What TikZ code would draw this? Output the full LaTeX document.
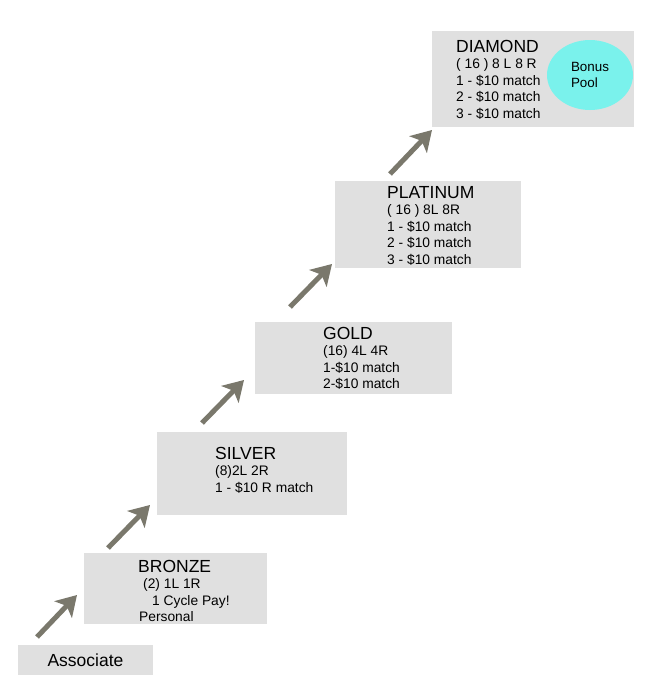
\documentclass[tikz,border=0pt]{standalone}
\usepackage{fontspec}
\setmainfont{Liberation Sans}
\usetikzlibrary{arrows.meta,shapes.geometric}
\definecolor{boxgray}{RGB}{224,224,224}
\definecolor{arrowgray}{RGB}{122,120,108}
\definecolor{poolcyan}{RGB}{122,242,236}
\newcommand\titlef{\fontsize{17.5}{17}\selectfont}
\newcommand\bodyf{\fontsize{13.8}{16.5}\selectfont}
\tikzset{
  box/.style={rectangle, fill=boxgray, draw=none, inner sep=0pt},
  txt/.style={anchor=base west, inner sep=0pt, text=black},
  uparrow/.style={draw=arrowgray, line width=5pt,
    -{Stealth[length=20pt,width=24pt,inset=5pt,fill=arrowgray]}}
}
\begin{document}
\begin{tikzpicture}[x=1pt,y=-1pt]
\useasboundingbox (0,0) rectangle (649,697);
% boxes
\node[box, minimum width=135pt, minimum height=30pt, font=\titlef] (assoc) at (85.5,660) {Associate};
\node[box, minimum width=183pt, minimum height=71pt] (bronze) at (175.5,588.5) {};
\node[box, minimum width=190pt, minimum height=83pt] (silver) at (252,473.5) {};
\node[box, minimum width=197pt, minimum height=72pt] (gold) at (353.5,358) {};
\node[box, minimum width=186pt, minimum height=87pt] (platinum) at (428,224.5) {};
\node[box, minimum width=202pt, minimum height=96pt] (diamond) at (533,79) {};
% pool
\node[ellipse, fill=poolcyan, minimum width=86pt, minimum height=70pt, inner sep=0pt,
      align=left, font=\fontsize{13.4}{16}\selectfont] (pool) at (590,75) {Bonus\\Pool};
% texts
\node[txt] (bronzeT) at (138,572) {\parbox[t]{125pt}{\titlef BRONZE\par\bodyf
  \hspace*{5pt}(2) 1L 1R\par\hspace*{14pt}1 Cycle Pay!\par\hspace*{1pt}Personal}};
\node[txt] (silverT) at (215,459) {\parbox[t]{125pt}{\titlef SILVER\par\bodyf
  (8)2L 2R\par 1 - \$10 R match}};
\node[txt] (goldT) at (323,339) {\parbox[t]{125pt}{\titlef GOLD\par\bodyf
  (16) 4L 4R\par 1-\$10 match\par 2-\$10 match}};
\node[txt] (platinumT) at (387,198) {\parbox[t]{125pt}{\titlef PLATINUM\par\bodyf
  ( 16 ) 8L 8R\par 1 - \$10 match\par 2 - \$10 match\par 3 - \$10 match}};
\node[txt] (diamondT) at (456,52) {\parbox[t]{100pt}{\titlef DIAMOND\par\bodyf
  ( 16 ) 8 L 8 R\par 1 - \$10 match\par 2 - \$10 match\par 3 - \$10 match}};
% arrows
\coordinate (a1s) at (37,637);  \coordinate (a1e) at (77,595);
\coordinate (a2s) at (108,548); \coordinate (a2e) at (150,505);
\coordinate (a3s) at (202,423); \coordinate (a3e) at (244,380);
\coordinate (a4s) at (290,307); \coordinate (a4e) at (332,264);
\coordinate (a5s) at (390,174); \coordinate (a5e) at (432,130);
\draw[uparrow] (a1s) -- (a1e);
\draw[uparrow] (a2s) -- (a2e);
\draw[uparrow] (a3s) -- (a3e);
\draw[uparrow] (a4s) -- (a4e);
\draw[uparrow] (a5s) -- (a5e);
\end{tikzpicture}
\end{document}
